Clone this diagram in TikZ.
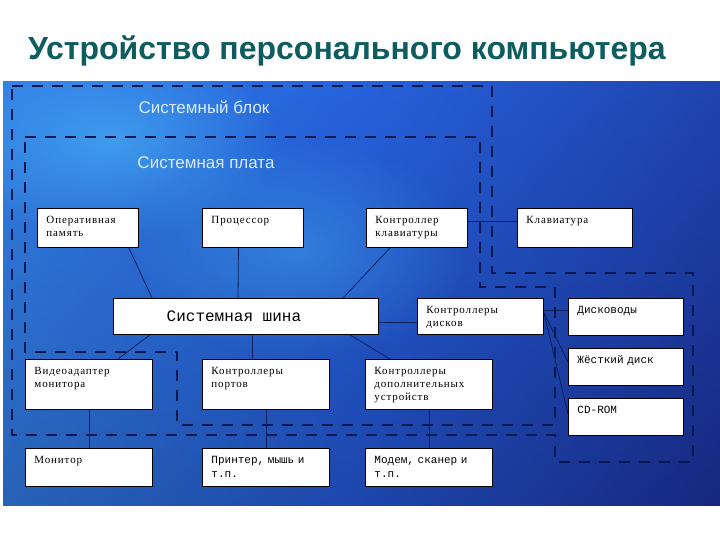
\documentclass[tikz,border=0pt]{standalone}
\usepackage{fontspec}
\setmainfont{Liberation Serif}
\newfontfamily\titlefont{Liberation Sans}
\newfontfamily\unitfont[LetterSpace=8]{Liberation Serif}
\newfontfamily\diskfont{Liberation Mono}
\usetikzlibrary{calc,fadings}

\definecolor{titleteal}{RGB}{12,92,96}
\definecolor{dashnavy}{RGB}{10,24,80}
\definecolor{linknavy}{RGB}{14,30,92}
\definecolor{bgleft}{RGB}{58,150,240}
\definecolor{bgmid}{RGB}{38,98,220}
\definecolor{bgright}{RGB}{26,44,140}
\definecolor{bgdark}{RGB}{18,36,112}
\definecolor{bgglow}{RGB}{80,190,250}
\definecolor{labelblue}{RGB}{215,235,255}

\tikzfading[name=softglow, inner color=transparent!0, outer color=transparent!100]

\begin{document}
\begin{tikzpicture}[x=1pt, y=-1pt]

\tikzstyle{unit} = [rectangle, draw=black, line width=0.9pt, fill=white, anchor=north west, align=left, inner xsep=9pt, inner ysep=3pt, text height=12pt, font=\unitfont\fontsize{11}{13}\selectfont]
\tikzstyle{block} = [unit, text width=83pt, text depth=21pt]
\tikzstyle{diskblock} = [unit, text width=97pt, text depth=19pt, font=\diskfont\fontsize{11}{14}\selectfont]
\tikzstyle{tallblock} = [unit, text width=109pt, text depth=32pt]
\tikzstyle{lowblock} = [unit, text width=109pt, text depth=20pt]
\tikzstyle{region} = [dashnavy, line width=1.3pt, dash pattern=on 11pt off 9pt]
\tikzstyle{link} = [linknavy, line width=0.8pt]
\tikzstyle{caption} = [labelblue, font=\titlefont\fontsize{17}{20}\selectfont]

\useasboundingbox (0,0) rectangle (720,540);
\fill[white] (0,0) rectangle (720,540);

%% ------------------
%% -- BACKGROUND --
%% ------------------

\node (title) [anchor=west, inner sep=0pt, titleteal, font=\titlefont\bfseries\fontsize{32}{34}\selectfont] at (28,51) {Устройство персонального компьютера};

\shade[left color=bgleft, right color=bgright, middle color=bgmid] (3,82) rectangle (720,505);
\shade[top color=bgmid, bottom color=bgdark, opacity=0.45] (3,82) rectangle (720,505);
\begin{scope}
\clip (3,82) rectangle (720,505);
\fill[bgglow, path fading=softglow, opacity=0.55] (110,140) ellipse (170 and 100);
\fill[bgglow, path fading=softglow, opacity=0.35] (300,250) ellipse (170 and 110);
\end{scope}

% system unit and system board
\draw [region] (12,86) -- (492,86) -- (492,273) -- (693,273) -- (693,462) -- (555,462) -- (555,435) -- (12,435) -- cycle;
\draw [region] (25,137) -- (480,137) -- (480,287) -- (555,287) -- (555,425) -- (177,425) -- (177,352) -- (25,352) -- cycle;

\node (unitlabel) [caption] at (204,107) {Системный блок};
\node (boardlabel) [caption] at (206,163) {Системная плата};

%% ------------------
%% -- DEVICES --
%% ------------------

% top row
\node (ram) [block] at (37,208) {Оперативная\\память};
\node (cpu) [block] at (202,208) {Процессор};
\node (kbc) [block] at (366,208) {Контроллер\\клавиатуры};
\node (kbd) [unit, text width=97pt, text depth=21pt] at (517,208) {Клавиатура};

% bus row
\node (bus) [rectangle, draw=black, line width=0.9pt, fill=white, anchor=north west, minimum width=265pt, minimum height=36pt, font=\diskfont\fontsize{16}{18}\selectfont] at (113,298) {Системная шина\hspace*{24pt}};
\node (dctl) [unit, text width=108pt, text depth=18pt] at (417,298) {Контроллеры\\дисков};
\node (floppy) [diskblock] at (568,298) {Дисководы};
\node (hdd) [diskblock] at (568,348) {Жёсткий диск};
\node (cd) [diskblock] at (568,398) {CD-ROM};

% controllers
\node (video) [tallblock] at (25,359) {Видеоадаптер\\монитора};
\node (ports) [tallblock] at (202,359) {Контроллеры\\портов};
\node (extra) [tallblock] at (365,359) {Контроллеры\\дополнительных\\устройств};

% peripherals
\node (monitor) [lowblock] at (25,448) {Монитор};
\node (printer) [lowblock, font=\diskfont\fontsize{11}{14}\selectfont] at (202,448) {Принтер, мышь и\\т.п.};
\node (modem) [lowblock, font=\diskfont\fontsize{11}{14}\selectfont] at (365,448) {Модем, сканер и\\т.п.};

%% ------------------
%% -- LINKS --
%% ------------------

\draw [link] ([xshift=-10pt]ram.south east) -- ([xshift=39pt]bus.north west);
\draw [link] ([xshift=-14.5pt]cpu.south) -- ([xshift=125pt]bus.north west);
\draw [link] ([xshift=24pt]kbc.south west) -- ([xshift=230pt]bus.north west);
\draw [link] ([yshift=6.5pt]kbc.east) -- ([yshift=6.5pt]kbd.west);

\draw [link] ([yshift=-6pt]bus.east) -- ([yshift=-6pt]dctl.west);
\draw [link] ([yshift=6pt]dctl.east) -- ([yshift=6.5pt]floppy.west);
\draw [link] ([yshift=4pt]dctl.east) -- ([yshift=5pt]hdd.west);
\draw [link] ([yshift=4pt]dctl.east) -- ([yshift=3pt]cd.west);

\draw [link] ([xshift=37pt]bus.south west) -- ([xshift=93pt]video.north west);
\draw [link] ([xshift=139pt]bus.south west) -- ([xshift=50pt]ports.north west);
\draw [link] ([xshift=237pt]bus.south west) -- ([xshift=25pt]extra.north west);

\draw [link] (video.south) -- (monitor.north);
\draw [link] (ports.south) -- (printer.north);
\draw [link] (extra.south) -- (modem.north);

\end{tikzpicture}
\end{document}
